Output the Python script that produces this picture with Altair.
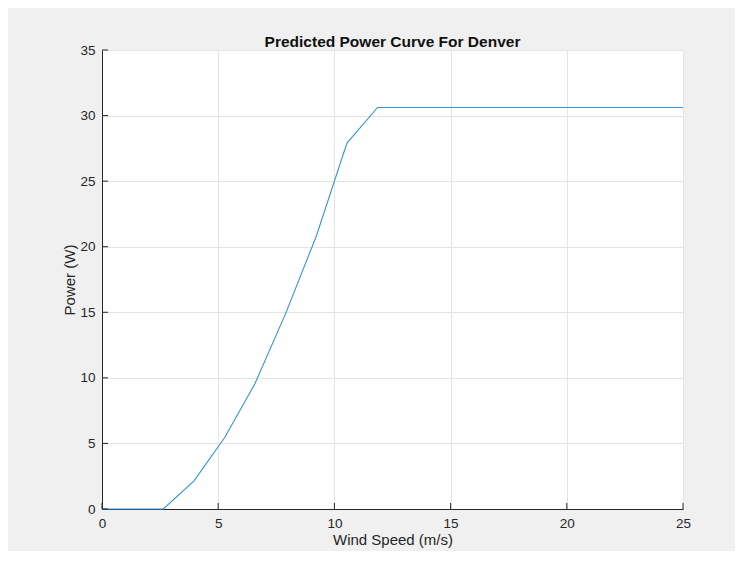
import altair as alt
import pandas as pd

wind_speed = [0, 2.64, 3.96, 5.28, 6.58, 7.9, 9.22, 10.54, 11.86, 25]
power = [0, 0, 2.15, 5.45, 9.55, 14.9, 20.8, 27.9, 30.62, 30.62]
x_ticks = [0, 5, 10, 15, 20, 25]
y_ticks = [0, 5, 10, 15, 20, 25, 30, 35]

df = pd.DataFrame({"ws": wind_speed, "p": power})
dfx = pd.DataFrame({"t": x_ticks})
dfy = pd.DataFrame({"t": y_ticks})

FONT = "Liberation Sans"
AX = "#262626"
W, H = 581, 459

xscale = alt.Scale(domain=[0, 25], nice=False, zero=False)
yscale = alt.Scale(domain=[0, 35], nice=False, zero=False)

line = alt.Chart(df).mark_line(color="#3593d6", strokeWidth=1.1).encode(
    x=alt.X("ws:Q", scale=xscale, title="Wind Speed (m/s)",
            axis=alt.Axis(values=x_ticks, grid=True, gridColor="#e4e4e4",
                          domainColor=AX, domainWidth=1, ticks=False,
                          labelFont=FONT, labelFontSize=13.5, labelColor=AX,
                          labelPadding=7, titleFont=FONT, titleFontSize=15,
                          titleFontWeight="normal", titleColor=AX, titlePadding=3,
                          labelFlush=False)),
    y=alt.Y("p:Q", scale=yscale, title="Power (W)",
            axis=alt.Axis(values=y_ticks, grid=True, gridColor="#e4e4e4",
                          domainColor=AX, domainWidth=1, ticks=False,
                          labelFont=FONT, labelFontSize=13.5, labelColor=AX,
                          labelPadding=7, titleFont=FONT, titleFontSize=15,
                          titleFontWeight="normal", titleColor=AX, titlePadding=2,
                          labelFlush=False)),
)

xt = alt.Chart(dfx).mark_rule(color=AX, strokeWidth=1).encode(
    x=alt.X("t:Q", scale=xscale),
    y=alt.value(H), y2=alt.value(H - 6),
)
yt = alt.Chart(dfy).mark_rule(color=AX, strokeWidth=1).encode(
    y=alt.Y("t:Q", scale=yscale),
    x=alt.value(0), x2=alt.value(6),
)

chart = alt.layer(line, xt, yt).properties(
    width=W, height=H,
    autosize=alt.AutoSizeParams(type="none"),
    padding={"left": 94, "top": 42, "right": 52, "bottom": 42},
    background="#f0f0f0",
    title=alt.Title("Predicted Power Curve For Denver", font=FONT, fontSize=15.5,
                    fontWeight="bold", color="#111111", anchor="middle",
                    offset=-7),
).configure_view(fill="white", stroke="#d4d4d4", strokeWidth=1)

chart.save("out.html", embed_options={"renderer": "svg", "actions": False})
